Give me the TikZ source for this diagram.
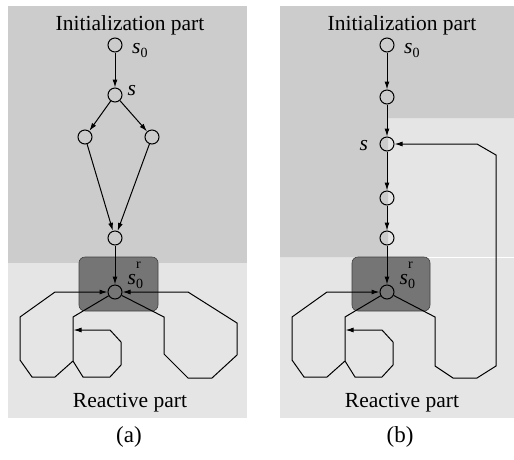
\documentclass[tikz,border=0pt]{standalone}
\usepackage{fontspec}
\setmainfont{Liberation Serif}
\usetikzlibrary{arrows.meta}
\definecolor{initgray}{gray}{0.80}
\definecolor{reactgray}{gray}{0.90}
\definecolor{boxgray}{gray}{0.46}
\tikzset{
  state/.style={circle,draw,minimum size=14pt,inner sep=0pt,line width=1pt},
  trans/.style={-{Latex[length=8pt,width=5pt]},line width=1pt},
  rbox/.style={draw=black!75,fill=boxgray,rounded corners=6pt,minimum width=79pt,minimum height=54pt,line width=0.6pt},
  partlabel/.style={font=\fontsize{21.5}{24}\selectfont,anchor=base,inner sep=0pt},
  statelabel/.style={font=\fontsize{21.5}{24}\selectfont,anchor=base west,inner sep=0pt},
}
\newcommand\subl[1]{\raisebox{-0.23em}{\fontsize{14}{14}\selectfont #1}}
\newcommand\supl[1]{\raisebox{0.72em}{\fontsize{14}{14}\selectfont #1}}
\begin{document}
\begin{tikzpicture}[x=1pt,y=-1pt]
  \useasboundingbox[fill=white] (0,0) rectangle (514,459);
  % regions of (a)
  \fill[initgray] (8,6) rectangle (247,263);
  \fill[reactgray] (8,263) rectangle (247,418);
  % regions of (b)
  \fill[reactgray] (280,6) rectangle (514,418);
  \fill[initgray] (280,6) -- (514,6) -- (514,118) -- (388,118) -- (388,257) -- (280,257) -- cycle;
  \draw[white,line width=0.8pt] (388,257) -- (514,257);
  \node[rbox] (abox) at (118.5,284) {};
  \node[rbox,minimum width=78pt] (bbox) at (391,284) {};

  % states of (a)
  \node[state] (a0) at (115,45) {};
  \node[state] (as) at (115,95) {};
  \node[state] (aleft) at (85,137) {};
  \node[state] (aright) at (152,137) {};
  \node[state] (abot) at (115,238) {};
  \node[state] (ar) at (115,292) {};
  % states of (b)
  \node[state] (b0) at (387,45) {};
  \node[state] (b1) at (387,97) {};
  \node[state] (bs) at (387,144) {};
  \node[state] (b2) at (387,198) {};
  \node[state] (b3) at (387,238) {};
  \node[state] (br) at (387,292) {};

  \draw[trans] (a0) -- (as);
  \draw[trans] (as) -- (aleft);
  \draw[trans] (as) -- (aright);
  \draw[trans] (aleft) -- (abot);
  \draw[trans] (aright) -- (abot);
  \draw[trans] (abot) -- (ar);
  \draw[trans] (b0) -- (b1);
  \draw[trans] (b1) -- (bs);
  \draw[trans] (bs) -- (b2);
  \draw[trans] (b2) -- (b3);
  \draw[trans] (b3) -- (br);

  % reactive loops on the left, same in both
  \foreach \p/\dx in {a/0,b/272}{
    \begin{scope}[xshift=\dx]
      \draw[trans] (\p r) -- (73,317) -- (73,361) -- (55,377) -- (32,377) -- (20,360) -- (20,317) -- (55,292) -- (\p r);
      \coordinate (\p back) at (73.5,330);
      \draw[trans] (73,361) -- (83,377) -- (110,377) -- (121,365) -- (121,342) -- (110,330) -- (\p back);
    \end{scope}
  }
  \draw[trans] (ar) -- (164,317) -- (164,354) -- (188,378) -- (212,378) -- (237,355) -- (237,323) -- (188,292) -- (ar);
  \draw[trans] (br) -- (435,317) -- (435,366) -- (453,378) -- (477,378) -- (496,366) -- (496,155) -- (477,144) -- (bs);

  % labels
  \node[statelabel] (a0lab) at (132,53) {\textit{s}\subl{0}};
  \node[statelabel] (aslab) at (127.5,95) {\textit{s}};
  \node[statelabel] (arlab) at (127.5,284) {\textit{s}\rlap{\supl{r}}\subl{0}};
  \node[statelabel] (b0lab) at (404,53) {\textit{s}\subl{0}};
  \node[statelabel] (bslab) at (359.5,150) {\textit{s}};
  \node[statelabel] (brlab) at (399.5,284) {\textit{s}\rlap{\supl{r}}\subl{0}};
  \node[partlabel] (ainit) at (130,30) {Initialization part};
  \node[partlabel] (binit) at (402,30) {Initialization part};
  \node[partlabel] (areact) at (130,407) {Reactive part};
  \node[partlabel] (breact) at (402,407) {Reactive part};
  \node[partlabel,font=\fontsize{23}{26}\selectfont] (acap) at (129,442) {(a)};
  \node[partlabel,font=\fontsize{23}{26}\selectfont] (bcap) at (400,442) {(b)};
\end{tikzpicture}
\end{document}
